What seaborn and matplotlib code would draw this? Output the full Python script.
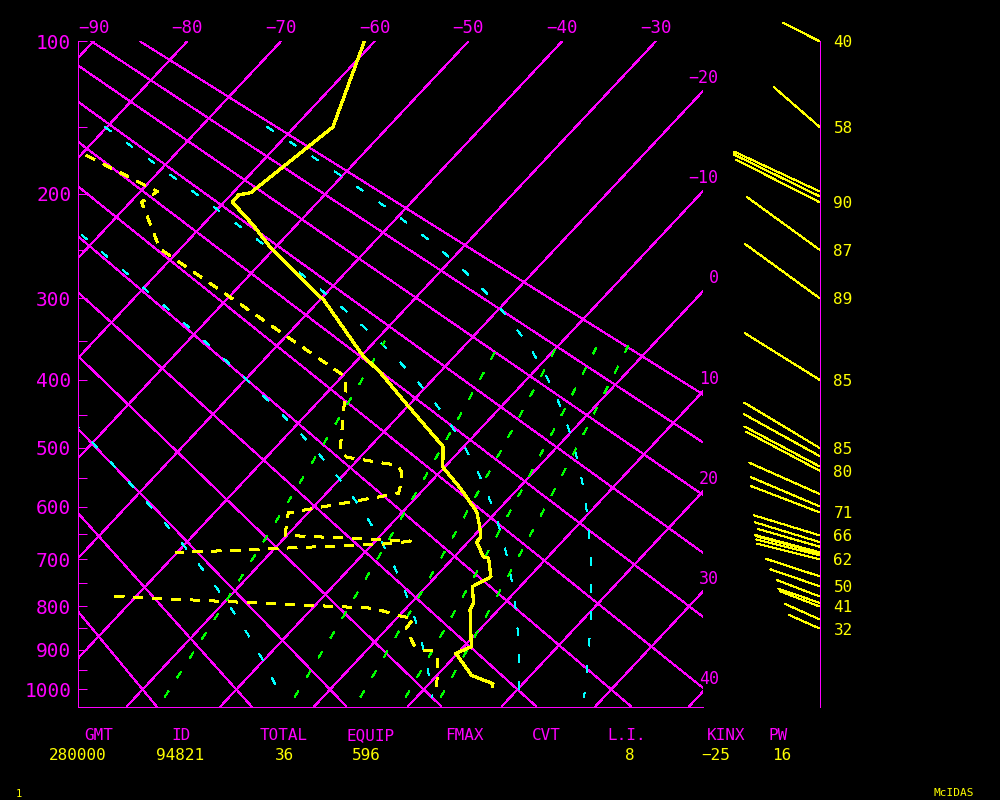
import numpy as np
import pandas as pd
import matplotlib
matplotlib.use("Agg")
import matplotlib.pyplot as plt
import seaborn as sns

# ---- sounding 94821, 28/00Z ----
temp_p = [100, 150, 199, 201, 207, 227, 249, 295, 302, 368, 391, 435, 498, 531,
          567, 609, 635, 657, 666, 695, 698, 736, 757, 793, 808, 893, 909, 964, 985, 992]
temp_c = [-61.1, -55.9, -58.1, -59.2, -59.1, -54.6, -50.3, -41.0, -39.6, -29.9, -26.2,
          -20.2, -12.2, -10.2, -6.2, -2.1, -0.4, 0.9, 0.9, 3.1, 3.8, 5.9, 4.9, 6.7, 7.0,
          10.8, 9.8, 13.7, 16.8, 17.0]

# nan = missing levels (line is broken there)
dew_p = [170, 198, 207, 249, 396, 409, 506, 515, 528, 539, 556, 576, 611, 653, 664,
         669, 687, np.nan, 778, 804, 822, 827, 849, 889, 901, 903, 916, 992]
dew_c = [-79.4, -68.2, -68.8, -62.2, -29.6, -28.6, -22.7, -21.4, -15.3, -14.1, -13.1,
         -12.3, -22.1, -20.2, -6.3, -7.8, -30.2, np.nan, -32.3, -3.5, 0.3, 1.8, 2.0,
         4.5, 5.8, 7.2, 8.1, 11.1]

wind_p = [100, 150, 198, 202, 207, 250, 300, 400, 500, 513, 530, 537, 577, 599, 610,
          653, 666, 675, 686, 688, 692, 700, 735, 756, 778, 792, 800, 829, 850]
wind_dir = [297, 311, 295, 296, 297, 306, 306, 302, 301, 299, 298, 298, 294, 293, 291,
            287, 287, 286, 285, 285, 284, 284, 288, 289, 291, 289, 291, 294, 294]
wind_spd = [40, 58, 91, 92, 90, 87, 89, 85, 85, 83, 82, 80, 74, 72, 71,
            66, 65, 62, 64, 63, 63, 62, 54, 50, 44, 42, 41, 36, 32]

info_names = ["GMT", "ID", "TOTAL", "EQUIP", "FMAX", "CVT", "L.I.", "KINX", "PW"]
info_values = ["280000", "94821", "36", "596", "", "", "8", "\u221225", "16"]

# background grid of the diagram
isotherms = list(range(-90, 41, 10))
top_labels = list(range(-90, -29, 10))
right_labels = list(range(-20, 41, 10))
dry_theta = list(range(-20, 91, 10))          # deg C
moist_t1000 = [-5.6, 10.8, 20.2, 27.2]         # deg C at 1000 hPa
mix_ratios = [1, 3, 5, 7, 9]                   # g/kg
pres_major = list(range(100, 1001, 100))
pres_minor = list(range(150, 951, 100))

MAG, YEL, CYAN, GRN = "#ff00ff", "#ffff00", "#00ffff", "#00ff00"
KAPPA = 0.2857
SKEW = 18.67
P_TOP, P_BOT = 100.0, 1045.0
X_LEFT, X_RIGHT = -91.71, -25.0
LW = 0.72


def pk(p):
    return np.power(np.clip(np.asarray(p, dtype=float), 1e-6, None), KAPPA)


def pk_inv(u):
    return np.power(np.clip(np.asarray(u, dtype=float), 1e-9, None), 1.0 / KAPPA)


def skew_x(t, p):
    return np.asarray(t, dtype=float) - SKEW * (pk(p) - pk(P_TOP))


def moist_adiabat(t0, p_top=150.0, p_bot=1020.0, lfac=0.957):
    rd, cp, lv, eps = 287.04, 1005.7, 2.501e6 * lfac, 0.622

    def dtdp(t, p):
        tc = t - 273.15
        es = 6.112 * np.exp(17.67 * tc / (tc + 243.5))
        rs = eps * es / (p - es)
        return (rd * t + lv * rs) / (p * (cp + lv * lv * rs * eps / (rd * t * t)))

    parts = []
    for p_end in (p_top, p_bot):
        ps = np.linspace(1000.0, p_end, 300)
        t = t0 + 273.15
        ts = [t]
        for i in range(1, len(ps)):
            h = ps[i] - ps[i - 1]
            k1 = dtdp(t, ps[i - 1])
            k2 = dtdp(t + h * k1 / 2, ps[i - 1] + h / 2)
            k3 = dtdp(t + h * k2 / 2, ps[i - 1] + h / 2)
            k4 = dtdp(t + h * k3, ps[i])
            t = t + h * (k1 + 2 * k2 + 2 * k3 + k4) / 6
            ts.append(t)
        parts.append((ps, np.array(ts) - 273.15))
    p_all = np.concatenate([parts[0][0][::-1], parts[1][0][1:]])
    t_all = np.concatenate([parts[0][1][::-1], parts[1][1][1:]])
    return p_all, t_all


def dewpoint_of_w(w, p):
    e = w / 1000.0 * p / (0.622 + w / 1000.0)
    lnr = np.log(e / 6.112)
    return 243.5 * lnr / (17.67 - lnr)


sns.set_theme(style="dark", rc={"axes.facecolor": "black", "figure.facecolor": "black",
                                "axes.grid": False, "lines.antialiased": False})
plt.rcParams["font.family"] = ["DejaVu Sans Mono", "DejaVu Sans"]

fig = plt.figure(figsize=(10, 8), dpi=100)
ax = fig.add_axes([77.5 / 1000, 93.5 / 800, 625.2 / 1000, 665.2 / 800])
ax.set_yscale("function", functions=(pk, pk_inv))

# isotherms
for t in isotherms:
    pp = np.array([P_TOP, P_BOT])
    ax.plot(skew_x(t, pp), pp, color=MAG, lw=LW)

# dry adiabats
for th in dry_theta:
    pp = np.linspace(P_TOP, P_BOT, 20)
    tt = (th + 273.15) * (pp / 1000.0) ** KAPPA - 273.15
    ax.plot(skew_x(tt, pp), pp, color=MAG, lw=LW)

# saturated adiabats
for t0 in moist_t1000:
    pp, tt = moist_adiabat(t0)
    ax.plot(skew_x(tt, pp), pp, color=CYAN, lw=LW, linestyle=(0, (8, 19)))

# mixing ratio lines
for w in mix_ratios:
    pp = np.linspace(1020, 350, 40)
    ax.plot(skew_x(dewpoint_of_w(w, pp), pp), pp, color=GRN, lw=LW,
            linestyle=(0, (8, 16)))

# temperature and dewpoint
df_t = pd.DataFrame({"x": skew_x(temp_c, temp_p), "p": temp_p})
sns.lineplot(data=df_t, x="x", y="p", sort=False, estimator=None, color=YEL,
             lw=1.6, ax=ax)

dp = np.array(dew_p, dtype=float)
df_d = pd.DataFrame({"x": skew_x(dew_c, dp), "p": dp,
                     "seg": np.cumsum(np.isnan(dp))}).dropna()
sns.lineplot(data=df_d, x="x", y="p", units="seg", sort=False, estimator=None,
             color=YEL, lw=1.5, linestyle=(0, (4.8, 4.8)), ax=ax)

ax.set_xlim(X_LEFT, X_RIGHT)
ax.set_ylim(P_BOT, P_TOP)
ax.set_xlabel("")
ax.set_ylabel("")
ax.set_yticks(pres_major)
ax.set_yticklabels([str(p) for p in pres_major])
ax.set_yticks(pres_minor, minor=True)
ax.set_yticklabels([], minor=True)
ax.tick_params(axis="y", which="both", direction="in", length=6.5, width=LW,
               color=MAG, labelcolor=MAG, labelsize=14, pad=4.5, left=True)
ax.tick_params(axis="x", bottom=False, labelbottom=False)
for side in ["top", "right"]:
    ax.spines[side].set_visible(False)
for side in ["left", "bottom"]:
    ax.spines[side].set_visible(True)
    ax.spines[side].set_color(MAG)
    ax.spines[side].set_linewidth(LW)

for t in top_labels:
    ax.annotate(str(t).replace("-", "\u2212"), xy=(t, P_TOP), xytext=(0, 9.8),
                textcoords="offset points", ha="center", va="center", color=MAG,
                fontsize=12.5, annotation_clip=False)
for t in right_labels:
    p_edge = pk_inv(pk(P_TOP) + (t - X_RIGHT) / SKEW)
    ax.annotate(str(t).replace("-", "\u2212"), xy=(X_RIGHT, p_edge), xytext=(11.5, 9.4),
                textcoords="offset points", ha="right", va="center", color=MAG,
                fontsize=12, annotation_clip=False)

# wind panel (x in pixels, shared pressure axis)
axw = fig.add_axes([0.703, 93.5 / 800, 0.1165, 665.2 / 800], sharey=ax)
axw.patch.set_alpha(0)
axw.set_xlim(-116.5, 0)
axw.tick_params(left=False, labelleft=False, bottom=False, labelbottom=False)
for side in ["top", "left", "bottom"]:
    axw.spines[side].set_visible(False)
axw.spines["right"].set_visible(True)
axw.spines["right"].set_color(MAG)
axw.spines["right"].set_linewidth(LW)
axw.set_ylim(P_BOT, P_TOP)

px_per_kt = 1.037
last_y = None
order = np.argsort(wind_p)[::-1]
for i in order:
    p, d, s = wind_p[i], wind_dir[i], wind_spd[i]
    base = axw.transData.transform((0, p))
    tip = base + px_per_kt * s * np.array([np.sin(np.radians(d)), np.cos(np.radians(d))])
    tx, tp = axw.transData.inverted().transform(tip)
    axw.plot([0, tx], [p, tp], color=YEL, lw=LW, clip_on=False)
    if last_y is None or base[1] - last_y >= 19.3:
        axw.annotate(str(s), xy=(0, p), xytext=(10, -1.1), textcoords="offset points",
                     ha="left", va="center", color=YEL, fontsize=11.5,
                     annotation_clip=False)
        last_y = base[1]

# station info block
name_x = [98.5, 181, 284, 371, 464, 546, 627, 726, 778.5]
value_x = [77.5, 180, 285, 366, 0, 0, 630, 716, 782]
for nm, vl, xn, xv in zip(info_names, info_values, name_x, value_x):
    fig.text(xn / 1000, 1 - 740.5 / 800, nm, color=MAG, fontsize=11.5,
             ha="center", va="baseline")
    if vl:
        fig.text(xv / 1000, 1 - 760.5 / 800, vl, color=YEL, fontsize=11.5,
                 ha="center", va="baseline")
fig.text(19 / 1000, 1 - 794 / 800, "1", color=YEL, fontsize=7.5, ha="center", va="center")
fig.text(954 / 1000, 1 - 793 / 800, "McIDAS", color=YEL, fontsize=8, ha="center",
         va="center")

fig.savefig("out.png", dpi=100, facecolor="black")
